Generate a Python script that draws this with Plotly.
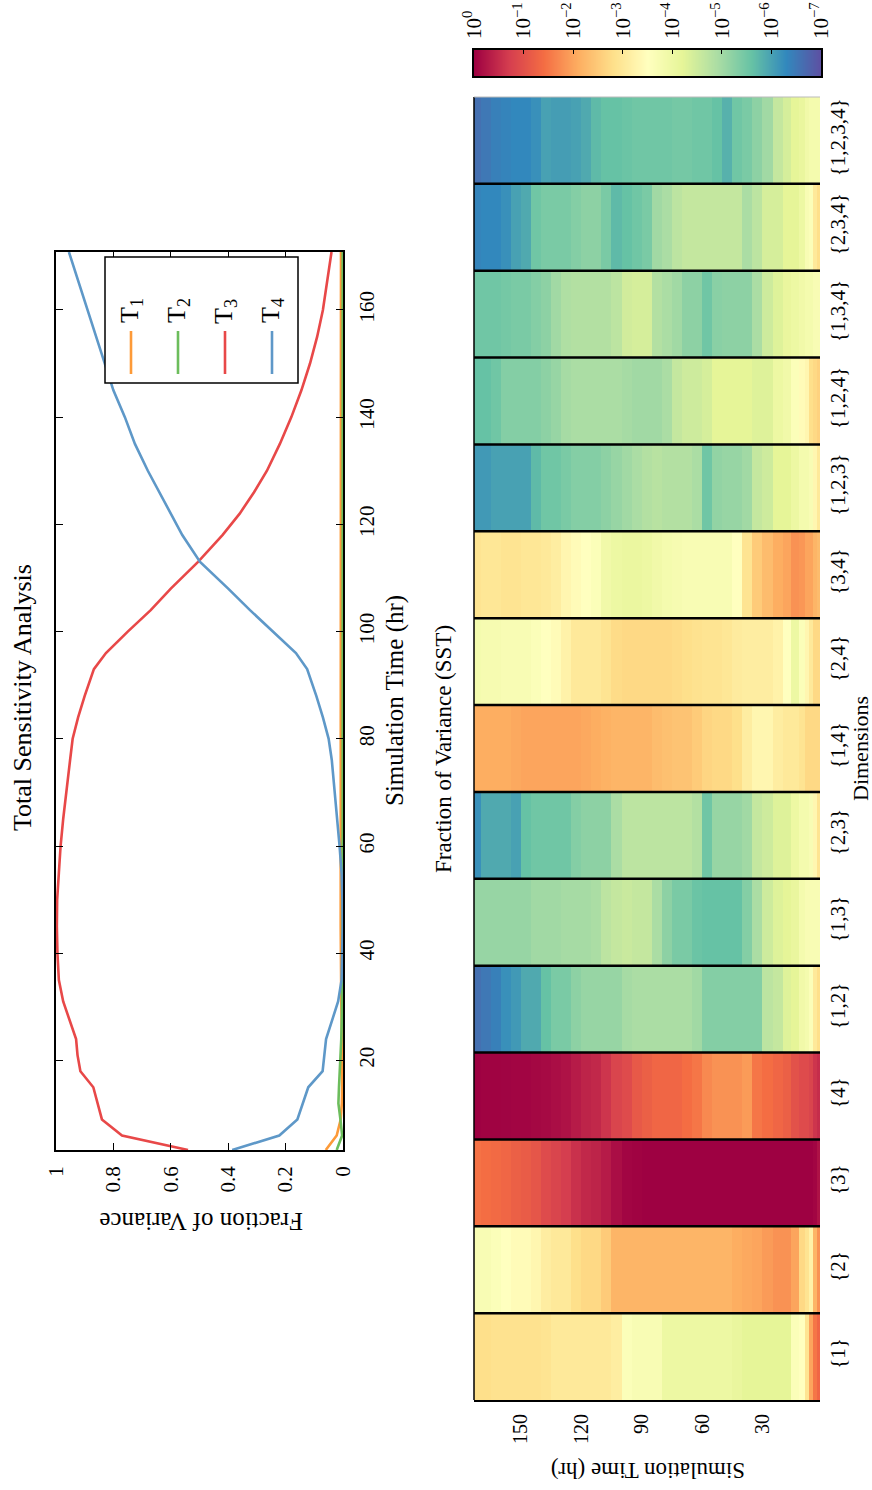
import plotly.graph_objects as go

W, H = 872, 1490
FONT = "Liberation Serif"

# ---------------- top panel: total sensitivity vs time ----------------
time_hr = [3.3, 6, 9, 12, 15, 18, 21, 24, 28, 31,
           35, 40, 45, 50, 55, 60, 65, 70, 76, 80,
           84, 88, 93, 96, 100, 104, 108, 113, 118, 122,
           126, 130, 135, 140, 145, 150, 155, 160, 165, 170.8]
T1 = [0.06, 0.022, 0.008, 0.004, 0.003, 0.003, 0.003, 0.004, 0.005, 0.006,
      0.007, 0.008, 0.008, 0.008, 0.008, 0.009, 0.009, 0.009, 0.009, 0.009,
      0.009, 0.009, 0.009, 0.009, 0.009, 0.009, 0.009, 0.009, 0.008, 0.008,
      0.008, 0.008, 0.008, 0.008, 0.008, 0.008, 0.008, 0.008, 0.007, 0.007]
T2 = [0.022, 0.003, 0.009, 0.016, 0.014, 0.011, 0.008, 0.006, 0.004, 0.003,
      0.002, 0.001, 0.001, 0.001, 0.001, 0.001, 0.001, 0.001, 0.001, 0.001,
      0.001, 0.001, 0.001, 0.001, 0.001, 0.001, 0.001, 0.001, 0.001, 0.001,
      0.001, 0.001, 0.001, 0.001, 0.001, 0.001, 0.001, 0.001, 0.001, 0.001]
T3 = [0.54, 0.77, 0.84, 0.855, 0.87, 0.915, 0.925, 0.93, 0.955, 0.975,
      0.99, 0.995, 0.997, 0.996, 0.99, 0.984, 0.975, 0.965, 0.951, 0.942,
      0.923, 0.90, 0.868, 0.826, 0.75, 0.67, 0.60, 0.505, 0.42, 0.36,
      0.31, 0.265, 0.22, 0.18, 0.145, 0.115, 0.09, 0.07, 0.055, 0.04]
T4 = [0.386, 0.222, 0.159, 0.14, 0.121, 0.071, 0.065, 0.059, 0.035, 0.017,
      0.005, 0.002, 0.001, 0.002, 0.005, 0.012, 0.02, 0.028, 0.039, 0.05,
      0.07, 0.093, 0.125, 0.164, 0.245, 0.324, 0.40, 0.498, 0.56, 0.60,
      0.64, 0.68, 0.725, 0.76, 0.80, 0.83, 0.86, 0.89, 0.92, 0.955]
series_names = ["T<sub>1</sub>", "T<sub>2</sub>", "T<sub>3</sub>", "T<sub>4</sub>"]
series_colors = ["#fd9a38", "#6cbd5c", "#e84848", "#5e98c8"]
frac_ticks = [0, 0.2, 0.4, 0.6, 0.8, 1]
time_ticks_top = [20, 40, 60, 80, 100, 120, 140, 160]

# ---------------- bottom panel: SST heatmap (values are -log10 of fraction) ----------------
dims = ["{1}", "{2}", "{3}", "{4}", "{1,2}", "{1,3}", "{2,3}", "{1,4}", "{2,4}", "{3,4}",
        "{1,2,3}", "{1,2,4}", "{1,3,4}", "{2,3,4}", "{1,2,3,4}"]
hm_time_edges = [1.4, 3, 5, 7, 9, 12, 16, 20, 25, 30, 35, 40, 45, 50, 55, 60, 65, 70, 75, 80,
                 85, 90, 95, 100, 105, 110, 115, 120, 125, 130, 135, 140, 145, 150, 155, 160,
                 165, 170, 173.3]
hm_time_ticks = [30, 60, 90, 120, 150]

row_1 = [1.3, 1.5, 2.0, 2.9, 3.5, 3.6, 4.2, 4.2, 4.2, 4.2,
         4.2, 4.1, 4.0, 4.0, 4.0, 4.0, 4.0, 4.0, 4.0, 3.7,
         3.7, 3.7, 3.6, 3.1, 3.0, 3.0, 3.0, 3.0, 3.0, 3.0,
         2.9, 2.85, 2.85, 2.85, 2.85, 2.85, 2.8, 2.8]
row_2 = [1.8, 2.2, 3.2, 2.9, 2.7, 2.0, 1.8, 1.8, 1.9, 2.0,
         2.05, 2.1, 2.2, 2.2, 2.2, 2.2, 2.2, 2.2, 2.2, 2.2,
         2.2, 2.2, 2.2, 2.2, 2.5, 2.7, 2.7, 2.8, 3.0, 3.0,
         3.1, 3.3, 3.4, 3.4, 3.5, 3.6, 3.7, 3.7]
row_3 = [0.2, 0.05, 0.0, 0.0, 0.0, 0.0, 0.0, 0.0, 0.0, 0.0,
         0.0, 0.0, 0.0, 0.0, 0.0, 0.0, 0.0, 0.0, 0.0, 0.0,
         0.0, 0.02, 0.05, 0.15, 0.3, 0.4, 0.45, 0.55, 0.7, 0.8,
         0.9, 1.05, 1.15, 1.2, 1.3, 1.35, 1.4, 1.45]
row_4 = [0.5, 0.6, 0.8, 0.9, 0.9, 1.0, 1.2, 1.3, 1.4, 1.5,
         1.9, 1.8, 1.8, 1.8, 1.7, 1.5, 1.4, 1.3, 1.3, 1.3,
         1.2, 1.1, 0.9, 0.8, 0.6, 0.45, 0.4, 0.3, 0.2, 0.15,
         0.1, 0.08, 0.05, 0.05, 0.03, 0.02, 0.02, 0.0]
row_12 = [2.8, 3.0, 3.6, 3.8, 3.9, 4.2, 4.3, 4.6, 4.7, 5.3,
          5.3, 5.3, 5.3, 5.3, 5.3, 5.0, 4.9, 4.9, 4.9, 4.9,
          4.9, 4.9, 4.95, 5.1, 5.1, 5.1, 5.1, 5.2, 5.4, 5.4,
          5.6, 5.9, 5.9, 6.1, 6.2, 6.4, 6.5, 6.6]
row_13 = [3.7, 3.7, 3.7, 3.7, 3.8, 4.1, 4.2, 4.3, 4.5, 4.9,
          5.3, 5.6, 5.6, 5.6, 5.6, 5.55, 5.4, 5.4, 5.2, 4.9,
          4.6, 4.6, 4.55, 4.6, 4.7, 4.9, 4.95, 4.95, 4.95, 5.0,
          5.0, 5.0, 5.1, 5.1, 5.1, 5.1, 5.1, 5.1]
row_23 = [2.9, 3.3, 3.7, 3.8, 3.8, 4.0, 4.3, 4.3, 4.5, 4.6,
          5.0, 5.1, 5.1, 5.1, 5.5, 4.8, 4.7, 4.7, 4.7, 4.7,
          4.7, 4.7, 4.7, 4.9, 5.2, 5.2, 5.2, 5.3, 5.5, 5.5,
          5.5, 5.5, 5.6, 6.0, 5.9, 5.9, 5.9, 6.2]
row_14 = [2.7, 2.7, 2.7, 2.7, 2.9, 3.0, 3.0, 3.1, 3.3, 3.3,
          3.1, 2.8, 2.7, 2.7, 2.65, 2.5, 2.4, 2.4, 2.35, 2.3,
          2.2, 2.2, 2.2, 2.2, 2.15, 2.1, 2.05, 2.0, 2.0, 2.0,
          2.0, 2.0, 2.0, 2.05, 2.1, 2.1, 2.1, 2.1]
row_24 = [2.7, 2.7, 3.0, 3.3, 3.6, 4.0, 3.5, 3.2, 3.1, 3.1,
          3.1, 3.05, 2.95, 2.9, 2.9, 2.85, 2.8, 2.75, 2.7, 2.7,
          2.7, 2.7, 2.7, 2.75, 2.9, 3.0, 3.0, 3.0, 3.2, 3.4,
          3.5, 3.6, 3.7, 3.7, 3.7, 3.75, 3.75, 3.8]
row_34 = [2.3, 2.2, 2.0, 2.0, 1.85, 1.8, 2.0, 2.1, 2.3, 2.5,
          2.9, 3.5, 3.7, 3.7, 3.7, 3.7, 3.7, 3.75, 3.8, 3.9,
          4.0, 4.05, 4.05, 4.0, 3.9, 3.6, 3.5, 3.4, 3.3, 3.1,
          3.0, 2.95, 2.95, 2.9, 2.9, 2.95, 2.95, 2.9]
row_123 = [3.0, 3.3, 3.7, 3.8, 3.8, 4.0, 4.2, 4.2, 4.5, 4.6,
           5.0, 5.1, 5.1, 5.15, 5.5, 4.9, 4.8, 4.8, 4.8, 4.75,
           4.8, 4.9, 5.0, 5.1, 5.2, 5.3, 5.3, 5.3, 5.4, 5.5,
           5.5, 5.7, 6.0, 6.0, 6.0, 6.0, 6.1, 6.1]
row_124 = [2.6, 2.7, 2.8, 3.3, 3.4, 3.6, 3.9, 4.0, 4.3, 4.3,
           4.2, 4.2, 4.2, 4.2, 4.4, 4.5, 4.5, 4.6, 4.9, 5.0,
           5.0, 5.0, 4.95, 4.9, 4.9, 4.9, 4.9, 4.9, 4.95, 5.1,
           5.2, 5.3, 5.3, 5.3, 5.3, 5.5, 5.6, 5.6]
row_134 = [3.7, 3.7, 3.8, 3.8, 3.9, 4.0, 4.1, 4.3, 4.5, 4.9,
           5.2, 5.2, 5.2, 5.25, 5.5, 5.2, 5.2, 5.0, 4.9, 4.8,
           4.4, 4.4, 4.45, 4.7, 4.8, 4.8, 4.8, 4.8, 4.85, 5.0,
           5.2, 5.3, 5.4, 5.4, 5.45, 5.5, 5.5, 5.5]
row_234 = [2.8, 3.0, 3.6, 3.7, 4.0, 4.2, 4.2, 4.4, 4.4, 4.7,
           4.9, 4.6, 4.6, 4.6, 4.6, 4.6, 4.6, 4.7, 4.9, 5.0,
           5.4, 5.5, 5.6, 5.7, 5.4, 5.2, 5.2, 5.3, 5.4, 5.4,
           5.4, 5.5, 5.9, 6.0, 6.2, 6.3, 6.3, 6.35]
row_1234 = [3.8, 3.8, 3.8, 3.9, 4.1, 4.2, 4.4, 4.6, 5.0, 5.2,
            5.4, 5.5, 5.8, 5.6, 5.5, 5.5, 5.45, 5.45, 5.5, 5.5,
            5.5, 5.5, 5.55, 5.6, 5.6, 5.7, 5.9, 6.0, 6.05, 6.05,
            6.0, 6.2, 6.3, 6.3, 6.35, 6.4, 6.5, 6.6]

cbar_exponents = [0, 1, 2, 3, 4, 5, 6, 7]
cbar_labels = ["10<sup>0</sup>", "10<sup>\u22121</sup>", "10<sup>\u22122</sup>", "10<sup>\u22123</sup>",
               "10<sup>\u22124</sup>", "10<sup>\u22125</sup>", "10<sup>\u22126</sup>", "10<sup>\u22127</sup>"]

SPECTRAL = ["rgb(158,1,66)", "rgb(213,62,79)", "rgb(244,109,67)", "rgb(253,174,97)",
            "rgb(254,224,139)", "rgb(255,255,191)", "rgb(230,245,152)", "rgb(171,221,164)",
            "rgb(102,194,165)", "rgb(50,136,189)", "rgb(94,79,162)"]
colorscale = [[i / (len(SPECTRAL) - 1), c] for i, c in enumerate(SPECTRAL)]


def px(x):
    return x / W


def py(y):
    return 1 - y / H


fig = go.Figure()

for vals, col in zip([T1, T2, T3, T4], series_colors):
    fig.add_trace(go.Scatter(x=vals, y=time_hr, mode="lines",
                             line=dict(color=col, width=2.6),
                             xaxis="x", yaxis="y", showlegend=False))

z_rows = [row_1, row_2, row_3, row_4, row_12, row_13, row_23, row_14, row_24, row_34,
          row_123, row_124, row_134, row_234, row_1234]
fig.add_trace(go.Heatmap(x=hm_time_edges, y=dims, z=z_rows, colorscale=colorscale,
                         zmin=0, zmax=7, showscale=False, xaxis="x2", yaxis="y2"))

fig.add_trace(go.Heatmap(x=cbar_exponents, y=[0, 1], z=[cbar_exponents, cbar_exponents],
                         zsmooth="best", colorscale=colorscale, zmin=0, zmax=7,
                         showscale=False, xaxis="x3", yaxis="y3", hoverinfo="skip"))

axis_common = dict(showgrid=False, zeroline=False, linecolor="black", automargin=False,
                   tickcolor="black", tickfont=dict(family=FONT, size=21, color="black"))

fig.update_layout(
    width=W, height=H,
    margin=dict(l=0, r=0, t=0, b=0, pad=0, autoexpand=False),
    paper_bgcolor="white", plot_bgcolor="white",
    font=dict(family=FONT, color="black"),
    xaxis=dict(domain=[px(56), px(343)], range=[1, 0], anchor="y",
               tickmode="array", tickvals=frac_ticks, tickangle=-90,
               ticks="inside", ticklen=7, showline=True, linewidth=1.5, mirror="ticks",
               ticklabelstandoff=6, **axis_common),
    yaxis=dict(domain=[py(1150), py(252)], range=[3.3, 170.8], anchor="x", side="right",
               tickmode="array", tickvals=time_ticks_top, tickangle=-90,
               ticks="inside", ticklen=7, showline=True, linewidth=1.5, mirror="ticks",
               ticklabelstandoff=4, **axis_common),
    xaxis2=dict(domain=[px(474), px(820)], range=[173.3, 1.4], anchor="y2",
                tickmode="array", tickvals=hm_time_ticks, tickangle=-90, ticks="",
                showline=True, linewidth=2, ticklabelstandoff=4, automargin=False,
                showgrid=False, zeroline=False, linecolor="black",
                tickfont=dict(family=FONT, size=20, color="black")),
    yaxis2=dict(domain=[py(1400), py(97)], range=[-0.5, len(dims) - 0.5], anchor="x2",
                side="right", type="category", tickangle=-90, ticks="", showline=False,
                ticklabelstandoff=3, showgrid=False, zeroline=False, automargin=False,
                tickfont=dict(family=FONT, size=21, color="black")),
    xaxis3=dict(domain=[px(474), px(821)], range=[0, 7], anchor="y3", side="top",
                tickmode="array", tickvals=cbar_exponents, ticktext=cbar_labels,
                tickangle=-90, ticks="inside", ticklen=4, tickcolor="black",
                showline=True, mirror=True, linecolor="black", linewidth=1.5,
                ticklabelstandoff=5, showgrid=False, zeroline=False, automargin=False,
                tickfont=dict(family=FONT, size=21, color="black")),
    yaxis3=dict(domain=[py(76), py(50)], range=[0, 1], anchor="x3", automargin=False,
                showticklabels=False, ticks="", showline=True, mirror=True,
                linecolor="black", linewidth=1.5, showgrid=False, zeroline=False),
)

shapes = []
for i in range(len(dims) - 1):
    shapes.append(dict(type="line", xref="x2 domain", yref="y2", x0=0, x1=1,
                       y0=i + 0.5, y1=i + 0.5, line=dict(color="black", width=2.5)))
shapes.append(dict(type="line", xref="x2 domain", yref="y2 domain", x0=0, x1=0, y0=0, y1=1,
                   line=dict(color="black", width=1.5)))
shapes.append(dict(type="line", xref="x2 domain", yref="y2 domain", x0=0, x1=1, y0=1, y1=1,
                   line=dict(color="#bbbbbb", width=1)))
# legend box
shapes.append(dict(type="rect", xref="paper", yref="paper", x0=px(105), x1=px(298),
                   y0=py(383), y1=py(257), fillcolor="white",
                   line=dict(color="black", width=1.5)))
legend_x = [131, 178, 225, 272]
for lx, col in zip(legend_x, series_colors):
    shapes.append(dict(type="line", xref="paper", yref="paper", x0=px(lx), x1=px(lx),
                       y0=py(374), y1=py(331), line=dict(color=col, width=2.6)))
fig.update_layout(shapes=shapes)

ann = []


def add_text(text, x, y, angle, size):
    ann.append(dict(text=text, x=px(x), y=py(y), xref="paper", yref="paper",
                    showarrow=False, textangle=angle, xanchor="center", yanchor="middle",
                    font=dict(family=FONT, size=size, color="black")))


add_text("Total Sensitivity Analysis", 22, 698, -90, 26)
add_text("Fraction of Variance", 201, 1222, 180, 25)
add_text("Simulation Time (hr)", 395, 701, -90, 25)
add_text("Fraction of Variance (SST)", 444, 749, -90, 23)
add_text("Dimensions", 861, 749, -90, 22)
add_text("Simulation Time (hr)", 648, 1471, 180, 23)
for lx, name in zip(legend_x, series_names):
    add_text(name, lx, 311, -90, 26)
fig.update_layout(annotations=ann)

fig.write_html("out.html")
